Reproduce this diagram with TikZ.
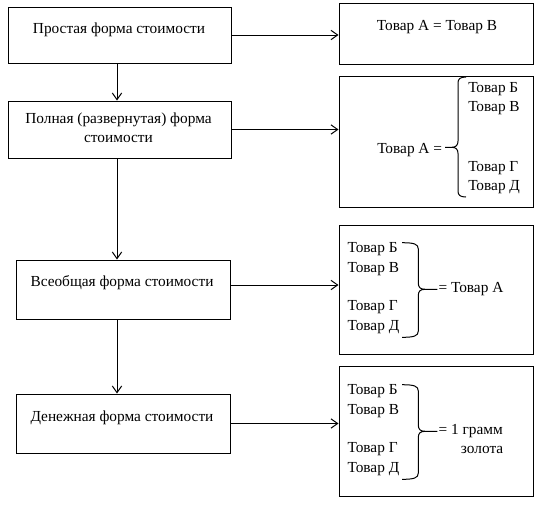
\documentclass[tikz,border=0pt]{standalone}
\usepackage{fontspec}
\setmainfont{Liberation Serif}
\newfontfamily\timesru{Liberation Serif}
\usetikzlibrary{arrows.meta}
\begin{document}
\begin{tikzpicture}[x=0.75pt,y=-0.75pt,
  box/.style={draw, line width=0.75pt, inner sep=0pt, rectangle},
  lbl/.style={inner sep=0pt, font=\timesru\fontsize{11.5pt}{14pt}\selectfont},
  arr/.style={line width=0.75pt, -{Straight Barb[length=5pt,width=7pt]}},
  brace/.style={line width=0.75pt}]
\useasboundingbox (0,0) rectangle (541,504);
% left boxes
\node[box, minimum width=167.25pt, minimum height=42pt]   (L1) at (119.5,35) {};
\node[box, minimum width=167.25pt, minimum height=42.75pt] (L2) at (119.5,129.5) {};
\node[box, minimum width=160.5pt, minimum height=44.25pt] (L3) at (123,289.5) {};
\node[box, minimum width=160.5pt, minimum height=44.25pt] (L4) at (123,423.5) {};
% right boxes
\node[box, minimum width=145.5pt, minimum height=45.4pt] (R1) at (436,33.75) {};
\node[box, minimum width=145.5pt, minimum height=97.9pt] (R2) at (436,142.25) {};
\node[box, minimum width=145.5pt, minimum height=96.75pt] (R3) at (436,289.5) {};
\node[box, minimum width=145.5pt, minimum height=97.3pt] (R4) at (436,431.85) {};
% connectors
\coordinate (vx) at (117,0);
\coordinate (h3) at (0,285);
\draw[arr] (L1.south -| vx) -- (L2.north -| vx);
\draw[arr] (L2.south -| vx) -- (L3.north -| vx);
\draw[arr] (L3.south -| vx) -- (L4.north -| vx);
\draw[arr] (L1.east) -- (L1.east -| R1.west);
\draw[arr] (L2.east) -- (L2.east -| R2.west);
\draw[arr] (L3.east |- h3) -- (R3.west |- h3);
\draw[arr] (L4.east) -- (L4.east -| R4.west);
% left texts
\node[lbl, anchor=base] (t1) at (119,33.5) {Простая форма стоимости};
\node[lbl, anchor=base] (t2a) at (118.5,123.5) {Полная (развернутая) форма};
\node[lbl, anchor=base] (t2b) at (118.5,142.5) {стоимости};
\node[lbl, anchor=base] (t3) at (122,286.7) {Всеобщая форма стоимости};
\node[lbl, anchor=base] (t4) at (122,421.7) {Денежная форма стоимости};
% right box 1
\node[lbl, anchor=base] (r1) at (437,30) {Товар А = Товар В};
% right box 2
\node[lbl, anchor=base west] (r2a) at (377,153.3) {Товар А =};
\node[lbl, anchor=base west] (r2b) at (468,92.7) {Товар Б};
\node[lbl, anchor=base west] (r2c) at (468,111.7) {Товар В};
\node[lbl, anchor=base west] (r2d) at (468,171.7) {Товар Г};
\node[lbl, anchor=base west] (r2e) at (468,190.7) {Товар Д};
\draw[brace] (466,77) .. controls (460,77) and (458,79) .. (458,83) -- (458,141)
  .. controls (458,145) and (456,147.3) .. (452,147.3) -- (445,147.3);
\draw[brace] (452,147.3) .. controls (456,147.3) and (458,149.5) .. (458,153.5) -- (458,191)
  .. controls (458,195) and (460,197) .. (466,197);
% right box 3
\node[lbl, anchor=base west] (r3b) at (347.3,252.3) {Товар Б};
\node[lbl, anchor=base west] (r3c) at (347.3,272.3) {Товар В};
\node[lbl, anchor=base west] (r3d) at (347.3,310.7) {Товар Г};
\node[lbl, anchor=base west] (r3e) at (347.3,330.7) {Товар Д};
\node[lbl, anchor=base west] (r3a) at (438.3,292.7) {= Товар А};
\draw[brace] (402,242.7) .. controls (414,242.7) and (418.3,244) .. (418.3,249) -- (418.3,283)
  .. controls (418.3,287) and (420,289.3) .. (425,289.3) -- (437.3,289.3);
\draw[brace] (425,289.3) .. controls (420,289.3) and (418.3,291.5) .. (418.3,295.5) -- (418.3,331)
  .. controls (418.3,336) and (414,337.3) .. (402,337.3);
% right box 4
\node[lbl, anchor=base west] (r4b) at (347.3,394.3) {Товар Б};
\node[lbl, anchor=base west] (r4c) at (347.3,414.3) {Товар В};
\node[lbl, anchor=base west] (r4d) at (347.3,452.7) {Товар Г};
\node[lbl, anchor=base west] (r4e) at (347.3,472.7) {Товар Д};
\node[lbl, anchor=base west] (r4a) at (438.3,434.5) {= 1 грамм};
\node[lbl, anchor=base west] (r4f) at (460.7,453.3) {золота};
\draw[brace] (402,384.7) .. controls (414,384.7) and (418.3,386) .. (418.3,391) -- (418.3,425)
  .. controls (418.3,429) and (420,431.3) .. (425,431.3) -- (437.3,431.3);
\draw[brace] (425,431.3) .. controls (420,431.3) and (418.3,433.5) .. (418.3,437.5) -- (418.3,473)
  .. controls (418.3,478) and (414,479.3) .. (402,479.3);
\end{tikzpicture}
\end{document}
